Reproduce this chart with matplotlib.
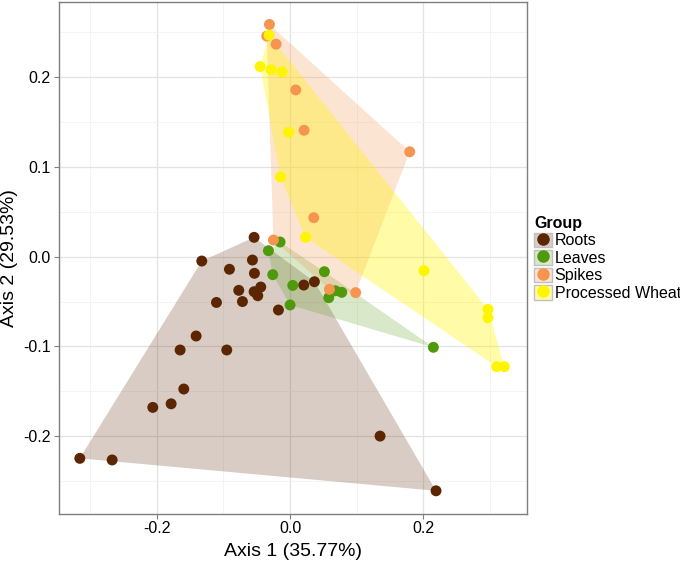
import numpy as np
import matplotlib
matplotlib.use("Agg")
import matplotlib.pyplot as plt
from matplotlib.patches import Polygon, Patch
from matplotlib.lines import Line2D
from matplotlib.legend_handler import HandlerTuple

plt.rcParams['font.family'] = ['Liberation Sans', 'DejaVu Sans']

groups = ["Roots", "Leaves", "Spikes", "Processed Wheat"]
colors = ["#5c2602", "#4e9a0c", "#f79450", "#fff500"]
hull_alpha = [0.23, 0.22, 0.25, 0.35]

roots_x = [-0.054, -0.1325, -0.091, -0.0565, -0.0535, -0.077, -0.044, -0.054, -0.0485,
           -0.0715, -0.1105, -0.0175, 0.0205, 0.0365, -0.095, -0.141, -0.165, -0.1595,
           -0.1785, -0.206, -0.3155, -0.267, 0.135, 0.219]
roots_y = [0.0216, -0.0048, -0.014, -0.0037, -0.0185, -0.0375, -0.0338, -0.039, -0.0435,
           -0.050, -0.051, -0.0594, -0.0316, -0.0279, -0.104, -0.0884, -0.104, -0.1475,
           -0.164, -0.168, -0.2248, -0.2266, -0.200, -0.261]

leaves_x = [-0.015, -0.0325, -0.026, 0.004, 0.0515, 0.000, 0.058, 0.068, 0.0775, 0.215]
leaves_y = [0.0164, 0.0067, -0.020, -0.032, -0.0167, -0.0538, -0.0457, -0.038, -0.0397, -0.101]

spikes_x = [-0.031, -0.035, -0.021, 0.0085, 0.021, 0.1795, 0.0355, -0.025, 0.059, 0.0985]
spikes_y = [0.259, 0.246, 0.237, 0.186, 0.141, 0.117, 0.0435, 0.0186, -0.0364, -0.040]

wheat_x = [-0.0315, -0.045, -0.0285, -0.012, -0.002, -0.0145, 0.023, 0.201, 0.297, 0.297, 0.310, 0.3215]
wheat_y = [0.247, 0.212, 0.2085, 0.206, 0.1387, 0.089, 0.0216, -0.0156, -0.0587, -0.068, -0.1226, -0.1226]

data = [(roots_x, roots_y), (leaves_x, leaves_y), (spikes_x, spikes_y), (wheat_x, wheat_y)]


def convex_hull(pts):
    pts = sorted(set(pts))
    if len(pts) <= 2:
        return pts

    def cross(o, a, b):
        return (a[0] - o[0]) * (b[1] - o[1]) - (a[1] - o[1]) * (b[0] - o[0])
    lower = []
    for p in pts:
        while len(lower) >= 2 and cross(lower[-2], lower[-1], p) <= 0:
            lower.pop()
        lower.append(p)
    upper = []
    for p in reversed(pts):
        while len(upper) >= 2 and cross(upper[-2], upper[-1], p) <= 0:
            upper.pop()
        upper.append(p)
    return lower[:-1] + upper[:-1]


fig = plt.figure(figsize=(6.8, 5.63), dpi=100)
ax = fig.add_axes([58.5 / 680, 1 - 513.5 / 563, (527 - 58.5) / 680, (513.5 - 2) / 563])

for (xs, ys), c, a in zip(data, colors, hull_alpha):
    hull = convex_hull(list(zip(xs, ys)))
    ax.add_patch(Polygon(hull, closed=True, facecolor=c, edgecolor='none', alpha=a, zorder=2))

for (xs, ys), c in zip(data, colors):
    ax.scatter(xs, ys, s=62, color=c, edgecolors='none', zorder=3)

ax.set_xlim(-0.3475, 0.3555)
ax.set_ylim(-0.2863, 0.2840)
ax.set_xticks([-0.2, 0.0, 0.2])
ax.set_xticklabels(["-0.2", "0.0", "0.2"])
ax.set_yticks([-0.2, -0.1, 0.0, 0.1, 0.2])
ax.set_yticklabels(["-0.2", "-0.1", "0.0", "0.1", "0.2"])
ax.set_xticks([-0.3, -0.1, 0.1, 0.3], minor=True)
ax.set_yticks([-0.25, -0.15, -0.05, 0.05, 0.15, 0.25], minor=True)
ax.grid(True, which='major', color='#e3e3e3', linewidth=0.9, zorder=0)
ax.grid(True, which='minor', color='#f2f2f2', linewidth=0.6, zorder=0)
ax.set_axisbelow(True)
ax.tick_params(which='major', length=3.5, width=0.8, color='#7f7f7f', labelsize=11.5, labelcolor='black', pad=2)
ax.tick_params(which='minor', length=0)
for sp in ax.spines.values():
    sp.set_color('#7f7f7f')
    sp.set_linewidth(1.0)

ax.set_xlabel("Axis 1 (35.77%)", fontsize=14, labelpad=5)
ax.set_ylabel("Axis 2 (29.53%)", fontsize=14, labelpad=4)

handles = []
for c, a in zip(colors, hull_alpha):
    p = Patch(facecolor=c, alpha=a, edgecolor='none')
    frame = Patch(facecolor='none', edgecolor='#c0c0c0', linewidth=1.0)
    m = Line2D([], [], marker='o', color=c, linestyle='', markersize=8)
    handles.append((p, frame, m))

leg = ax.legend(handles, groups, handler_map={tuple: HandlerTuple(ndivide=1, pad=0)},
                loc='upper left', bbox_to_anchor=(534 / 680, 1 - 216 / 563),
                bbox_transform=fig.transFigure, frameon=False, title="Group",
                fontsize=11.5, title_fontsize=11.5, handlelength=1.1, handleheight=1.05,
                handletextpad=0.2, labelspacing=0.1, borderpad=0, borderaxespad=0)
leg.get_title().set_fontweight('bold')
leg._legend_box.align = 'left'

fig.savefig("out.png", dpi=100)
